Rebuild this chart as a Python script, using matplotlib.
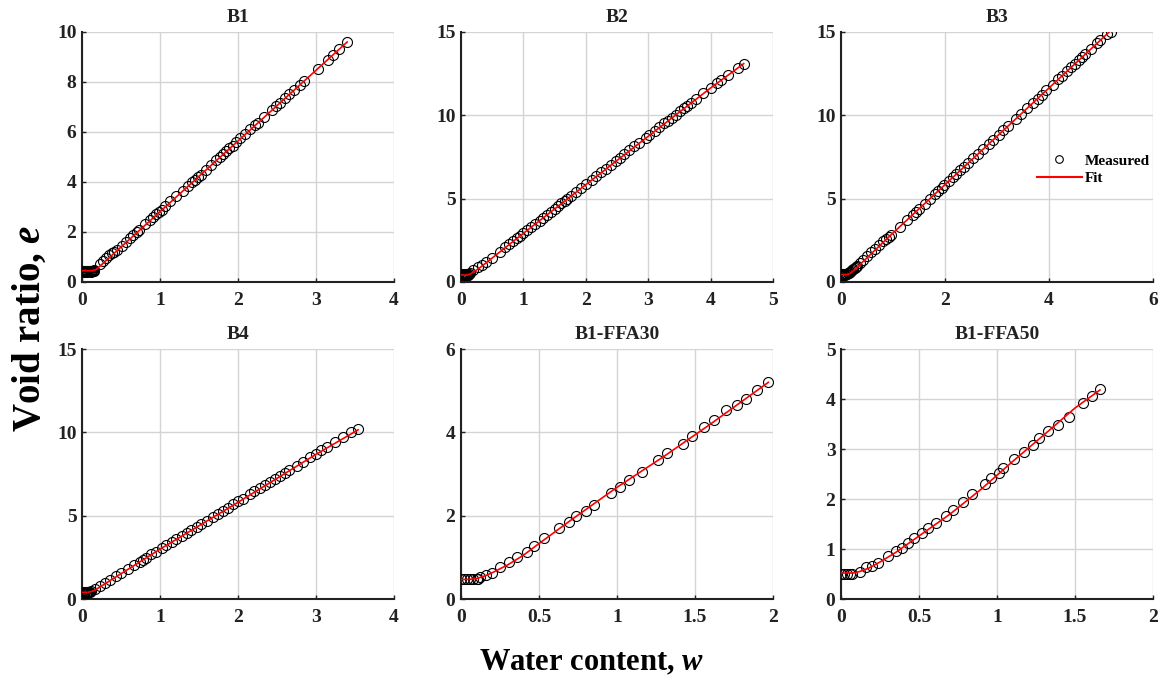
import matplotlib
matplotlib.use("Agg")
import matplotlib.pyplot as plt
from matplotlib.lines import Line2D

plt.rcParams['font.family'] = ['Liberation Serif', 'DejaVu Serif']
plt.rcParams['font.weight'] = 'bold'
plt.rcParams['mathtext.fontset'] = 'custom'
plt.rcParams['mathtext.it'] = 'Liberation Serif:italic:bold'
plt.rcParams['mathtext.rm'] = 'Liberation Serif:bold'

titles = ["B1", "B2", "B3", "B4", "B1-FFA30", "B1-FFA50"]

# ---------------- B1 ----------------
b1_w = [0.00, 0.01, 0.02, 0.03, 0.04, 0.05, 0.06, 0.07, 0.08, 0.09, 0.10, 0.11, 0.12, 0.13, 0.14, 0.15, 0.16,
        0.23, 0.27, 0.31, 0.35, 0.38, 0.41, 0.45, 0.51, 0.56, 0.62, 0.66, 0.70, 0.73, 0.81, 0.87, 0.91, 0.95,
        0.99, 1.02, 1.07, 1.13, 1.21, 1.29, 1.36, 1.41, 1.45, 1.49, 1.52, 1.59, 1.65, 1.72, 1.77, 1.81, 1.85,
        1.89, 1.93, 1.98, 2.03, 2.09, 2.16, 2.22, 2.25, 2.33, 2.44, 2.49, 2.54, 2.60, 2.66, 2.72, 2.79, 2.85,
        3.02, 3.15, 3.22, 3.30, 3.40]
b1_e = [0.44, 0.43, 0.45, 0.42, 0.44, 0.43, 0.45, 0.42, 0.44, 0.43, 0.45, 0.42, 0.44, 0.43, 0.45, 0.44, 0.47,
        0.72, 0.85, 0.98, 1.08, 1.16, 1.22, 1.30, 1.45, 1.60, 1.77, 1.88, 2.00, 2.10, 2.33, 2.50, 2.62, 2.72,
        2.82, 2.90, 3.05, 3.23, 3.45, 3.66, 3.85, 4.00, 4.10, 4.22, 4.30, 4.50, 4.67, 4.87, 5.02, 5.12, 5.23,
        5.35, 5.45, 5.60, 5.75, 5.92, 6.12, 6.30, 6.38, 6.60, 6.90, 7.05, 7.18, 7.35, 7.52, 7.68, 7.88, 8.05,
        8.52, 8.90, 9.10, 9.33, 9.62]
b1_fit_w = [0.00, 0.14, 0.17, 0.20, 0.25, 3.40]
b1_fit_e = [0.45, 0.45, 0.48, 0.55, 0.69, 9.60]

# ---------------- B2 ----------------
b2_w = [0.00, 0.01, 0.02, 0.03, 0.04, 0.05, 0.06, 0.07, 0.08, 0.09, 0.10, 0.11, 0.12, 0.13, 0.15,
        0.20, 0.27, 0.33, 0.40, 0.50, 0.62, 0.71, 0.77, 0.84, 0.90, 0.95, 1.00, 1.06, 1.12, 1.19, 1.26, 1.32,
        1.38, 1.44, 1.50, 1.55, 1.61, 1.66, 1.70, 1.76, 1.84, 1.93, 2.00, 2.10, 2.17, 2.25, 2.32, 2.40, 2.48,
        2.55, 2.62, 2.70, 2.78, 2.86, 2.96, 3.02, 3.11, 3.18, 3.26, 3.32, 3.38, 3.44, 3.51, 3.57, 3.62, 3.68,
        3.76, 3.88, 4.01, 4.10, 4.17, 4.28, 4.44, 4.53]
b2_e = [0.45, 0.42, 0.47, 0.40, 0.45, 0.42, 0.47, 0.40, 0.45, 0.42, 0.47, 0.43, 0.45, 0.50, 0.55,
        0.75, 0.88, 1.02, 1.20, 1.47, 1.83, 2.08, 2.26, 2.45, 2.63, 2.78, 2.93, 3.10, 3.28, 3.48, 3.69, 3.87,
        4.04, 4.22, 4.40, 4.55, 4.73, 4.88, 4.99, 5.16, 5.40, 5.66, 5.86, 6.15, 6.35, 6.58, 6.80, 7.03, 7.26,
        7.46, 7.67, 7.90, 8.13, 8.37, 8.65, 8.82, 9.08, 9.28, 9.52, 9.69, 9.86, 10.04, 10.24, 10.41, 10.56, 10.73,
        10.96, 11.31, 11.66, 11.92, 12.12, 12.43, 12.85, 13.08]
b2_fit_w = [0.00, 0.10, 0.15, 0.20, 0.30, 1.00, 2.00, 3.00, 4.00, 4.53]
b2_fit_e = [0.42, 0.42, 0.48, 0.60, 0.85, 2.92, 5.84, 8.74, 11.64, 13.10]

# ---------------- B3 ----------------
b3_w = [0.00, 0.02, 0.03, 0.05, 0.06, 0.08, 0.10, 0.12, 0.14, 0.16, 0.18, 0.20, 0.22, 0.24, 0.26, 0.28,
        0.30, 0.36, 0.43, 0.50, 0.58, 0.66, 0.74, 0.81, 0.87, 0.93, 0.97, 1.13, 1.26, 1.38, 1.44, 1.50, 1.61,
        1.71, 1.80, 1.87, 1.94, 1.99, 2.07, 2.16, 2.22, 2.29, 2.37, 2.45, 2.54, 2.63, 2.74, 2.84, 2.93, 3.03,
        3.12, 3.22, 3.36, 3.46, 3.58, 3.70, 3.78, 3.86, 3.95, 4.07, 4.18, 4.25, 4.35, 4.43, 4.50, 4.58, 4.64,
        4.70, 4.80, 4.92, 4.99, 5.12, 5.20]
b3_e = [0.48, 0.45, 0.50, 0.44, 0.48, 0.45, 0.50, 0.46, 0.52, 0.55, 0.60, 0.66, 0.72, 0.78, 0.84, 0.90,
        0.98, 1.15, 1.35, 1.55, 1.78, 2.00, 2.24, 2.44, 2.56, 2.70, 2.80, 3.31, 3.70, 4.04, 4.22, 4.40, 4.70,
        5.00, 5.26, 5.46, 5.66, 5.82, 6.05, 6.32, 6.48, 6.70, 6.92, 7.15, 7.42, 7.68, 7.98, 8.28, 8.54, 8.83,
        9.10, 9.38, 9.78, 10.08, 10.42, 10.77, 11.00, 11.24, 11.50, 11.84, 12.16, 12.37, 12.66, 12.89, 13.10, 13.32, 13.50,
        13.67, 13.96, 14.31, 14.51, 14.87, 14.98]
b3_fit_w = [0.00, 0.12, 0.17, 0.22, 0.30, 1.00, 2.00, 3.00, 4.00, 5.20]
b3_fit_e = [0.45, 0.45, 0.50, 0.62, 0.86, 2.94, 5.84, 8.74, 11.64, 15.12]

# ---------------- B4 ----------------
b4_w = [0.00, 0.01, 0.02, 0.03, 0.04, 0.05, 0.06, 0.07, 0.08, 0.09, 0.10,
        0.12, 0.17, 0.23, 0.29, 0.36, 0.44, 0.50, 0.59, 0.67, 0.74, 0.78, 0.82, 0.89, 0.95, 1.02, 1.08, 1.15,
        1.21, 1.28, 1.34, 1.40, 1.47, 1.53, 1.60, 1.68, 1.74, 1.81, 1.87, 1.94, 2.00, 2.06, 2.15, 2.21, 2.28,
        2.34, 2.41, 2.47, 2.54, 2.60, 2.66, 2.75, 2.83, 2.92, 3.00, 3.07, 3.14, 3.24, 3.35, 3.45, 3.54]
b4_e = [0.40, 0.36, 0.42, 0.38, 0.40, 0.36, 0.42, 0.38, 0.40, 0.42, 0.44,
        0.50, 0.60, 0.80, 0.98, 1.17, 1.40, 1.56, 1.82, 2.05, 2.24, 2.36, 2.48, 2.68, 2.84, 3.05, 3.22, 3.42,
        3.60, 3.79, 3.96, 4.14, 4.34, 4.51, 4.71, 4.94, 5.11, 5.31, 5.48, 5.68, 5.86, 6.03, 6.29, 6.46, 6.66,
        6.84, 7.04, 7.21, 7.41, 7.58, 7.75, 8.01, 8.24, 8.50, 8.73, 8.93, 9.13, 9.42, 9.73, 10.02, 10.18]
b4_fit_w = [0.00, 0.08, 0.13, 0.18, 0.25, 1.00, 2.00, 3.00, 3.54]
b4_fit_e = [0.40, 0.40, 0.46, 0.57, 0.78, 2.99, 5.80, 8.68, 10.15]

# ---------------- B1-FFA30 ----------------
ffa30_w = [0.00, 0.02, 0.04, 0.06, 0.08, 0.10, 0.11, 0.12, 0.16, 0.20, 0.25, 0.31, 0.36, 0.42, 0.47, 0.53,
           0.63, 0.69, 0.74, 0.80, 0.85, 0.96, 1.02, 1.08, 1.16, 1.26, 1.32, 1.42, 1.48, 1.56, 1.62, 1.70,
           1.77, 1.83, 1.90, 1.97]
ffa30_e = [0.47, 0.47, 0.47, 0.47, 0.47, 0.47, 0.48, 0.53, 0.58, 0.62, 0.77, 0.88, 1.00, 1.12, 1.28, 1.46,
           1.70, 1.85, 1.99, 2.12, 2.26, 2.55, 2.70, 2.85, 3.05, 3.34, 3.50, 3.72, 3.91, 4.13, 4.29, 4.53,
           4.66, 4.81, 5.02, 5.20]
ffa30_fit_w = [0.00, 0.05, 0.10, 0.15, 0.20, 0.30, 0.40, 0.50, 0.70, 1.00, 1.30, 1.60, 1.97]
ffa30_fit_e = [0.47, 0.47, 0.49, 0.55, 0.63, 0.82, 1.05, 1.33, 1.88, 2.68, 3.42, 4.20, 5.20]

# ---------------- B1-FFA50 ----------------
ffa50_w = [0.00, 0.02, 0.04, 0.06, 0.07, 0.12, 0.16, 0.20, 0.24, 0.30, 0.35, 0.39, 0.43, 0.47, 0.52, 0.56,
           0.61, 0.67, 0.72, 0.78, 0.84, 0.92, 0.96, 1.01, 1.04, 1.11, 1.17, 1.23, 1.27, 1.33, 1.39, 1.46,
           1.55, 1.61, 1.66]
ffa50_e = [0.51, 0.50, 0.51, 0.50, 0.51, 0.55, 0.64, 0.66, 0.73, 0.86, 0.96, 1.03, 1.13, 1.23, 1.33, 1.42,
           1.53, 1.66, 1.78, 1.95, 2.10, 2.31, 2.43, 2.53, 2.62, 2.80, 2.95, 3.08, 3.22, 3.36, 3.49, 3.65,
           3.93, 4.06, 4.20]
ffa50_fit_w = [0.00, 0.08, 0.12, 0.18, 0.25, 0.35, 0.50, 0.70, 0.90, 1.10, 1.30, 1.50, 1.66]
ffa50_fit_e = [0.52, 0.52, 0.55, 0.62, 0.74, 0.93, 1.26, 1.70, 2.20, 2.75, 3.28, 3.82, 4.18]

measured = [(b1_w, b1_e), (b2_w, b2_e), (b3_w, b3_e), (b4_w, b4_e), (ffa30_w, ffa30_e), (ffa50_w, ffa50_e)]
fits = [(b1_fit_w, b1_fit_e), (b2_fit_w, b2_fit_e), (b3_fit_w, b3_fit_e), (b4_fit_w, b4_fit_e),
        (ffa30_fit_w, ffa30_fit_e), (ffa50_fit_w, ffa50_fit_e)]

x_ticks = [[0, 1, 2, 3, 4], [0, 1, 2, 3, 4, 5], [0, 2, 4, 6], [0, 1, 2, 3, 4],
           [0, 0.5, 1, 1.5, 2], [0, 0.5, 1, 1.5, 2]]
y_ticks = [[0, 2, 4, 6, 8, 10], [0, 5, 10, 15], [0, 5, 10, 15], [0, 5, 10, 15],
           [0, 2, 4, 6], [0, 1, 2, 3, 4, 5]]
x_labels = [["0", "1", "2", "3", "4"], ["0", "1", "2", "3", "4", "5"], ["0", "2", "4", "6"],
            ["0", "1", "2", "3", "4"], ["0", "0.5", "1", "1.5", "2"], ["0", "0.5", "1", "1.5", "2"]]

W, H = 1160, 682
fig = plt.figure(figsize=(W / 100, H / 100), dpi=100)

lefts = [82, 461, 841]
row_tb = [(32, 282), (349, 599)]
aw = 312

for i in range(6):
    r, c = divmod(i, 3)
    top, bot = row_tb[r]
    ax = fig.add_axes([lefts[c] / W, (H - bot) / H, aw / W, (bot - top) / H])
    mw, me = measured[i]
    fw, fe = fits[i]
    ax.plot(mw, me, linestyle='none', marker='o', markersize=7.2, markerfacecolor='none',
            markeredgecolor='black', markeredgewidth=0.8, zorder=3, label='Measured')
    ax.plot(fw, fe, color='red', linewidth=1.2, zorder=4, label='Fit')
    ax.set_xlim(x_ticks[i][0], x_ticks[i][-1])
    ax.set_ylim(y_ticks[i][0], y_ticks[i][-1])
    ax.set_xticks(x_ticks[i])
    ax.set_xticklabels(x_labels[i])
    ax.set_yticks(y_ticks[i])
    ax.grid(True, color='#d4d4d4', linewidth=1.0)
    ax.set_axisbelow(True)
    for s in ['top', 'right']:
        ax.spines[s].set_visible(False)
    for s in ['left', 'bottom']:
        ax.spines[s].set_linewidth(1.5)
        ax.spines[s].set_color('#222222')
    ax.tick_params(axis='both', direction='in', length=3, width=1, labelsize=14, colors='#222222')
    ax.tick_params(axis='y', pad=4)
    ax.tick_params(axis='x', pad=7)
    for lab in ax.get_xticklabels() + ax.get_yticklabels():
        lab.set_fontweight('bold')
    ax.set_title(titles[i], fontsize=14, fontweight='bold', pad=7, color='#222222')
    if i == 2:
        handles = [Line2D([], [], linestyle='none', marker='o', markersize=5.5, markerfacecolor='none',
                          markeredgecolor='black', markeredgewidth=0.8),
                   Line2D([], [], color='red', linewidth=1.5)]
        ax.legend(handles, ['Measured', 'Fit'], loc='center left', bbox_to_anchor=(0.628, 0.45),
                  frameon=False, handlelength=2.95, handletextpad=0.2,
                  labelspacing=0.25, borderpad=0, borderaxespad=0, prop={'weight': 'bold', 'size': 11})

fig.text(591 / W, 1 - 663 / H, 'Water content, $\\it{w}$', ha='center', va='center',
         fontsize=22, fontweight='bold')
fig.text(30 / W, 1 - 328 / H, 'Void ratio, $\\it{e}$', ha='center', va='center',
         fontsize=28, fontweight='bold', rotation=90)

fig.savefig('out.png', dpi=100)
